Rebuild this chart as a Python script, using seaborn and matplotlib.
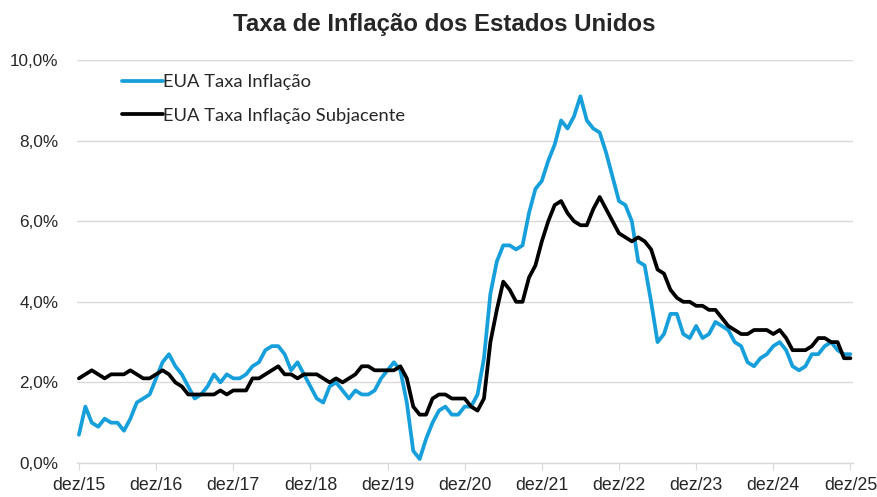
import pandas as pd
import numpy as np
import matplotlib
matplotlib.use('Agg')
import matplotlib.pyplot as plt
import seaborn as sns

# Taxa de inflação anual (%) - dez/2015 a dez/2025
inflacao = [0.7,
            1.4, 1.0, 0.9, 1.1, 1.0, 1.0, 0.8, 1.1, 1.5, 1.6, 1.7, 2.1,
            2.5, 2.7, 2.4, 2.2, 1.9, 1.6, 1.7, 1.9, 2.2, 2.0, 2.2, 2.1,
            2.1, 2.2, 2.4, 2.5, 2.8, 2.9, 2.9, 2.7, 2.3, 2.5, 2.2, 1.9,
            1.6, 1.5, 1.9, 2.0, 1.8, 1.6, 1.8, 1.7, 1.7, 1.8, 2.1, 2.3,
            2.5, 2.3, 1.5, 0.3, 0.1, 0.6, 1.0, 1.3, 1.4, 1.2, 1.2, 1.4,
            1.4, 1.7, 2.6, 4.2, 5.0, 5.4, 5.4, 5.3, 5.4, 6.2, 6.8, 7.0,
            7.5, 7.9, 8.5, 8.3, 8.6, 9.1, 8.5, 8.3, 8.2, 7.7, 7.1, 6.5,
            6.4, 6.0, 5.0, 4.9, 4.0, 3.0, 3.2, 3.7, 3.7, 3.2, 3.1, 3.4,
            3.1, 3.2, 3.5, 3.4, 3.3, 3.0, 2.9, 2.5, 2.4, 2.6, 2.7, 2.9,
            3.0, 2.8, 2.4, 2.3, 2.4, 2.7, 2.7, 2.9, 3.0, 2.8, 2.7, 2.7]

subjacente = [2.1,
              2.2, 2.3, 2.2, 2.1, 2.2, 2.2, 2.2, 2.3, 2.2, 2.1, 2.1, 2.2,
              2.3, 2.2, 2.0, 1.9, 1.7, 1.7, 1.7, 1.7, 1.7, 1.8, 1.7, 1.8,
              1.8, 1.8, 2.1, 2.1, 2.2, 2.3, 2.4, 2.2, 2.2, 2.1, 2.2, 2.2,
              2.2, 2.1, 2.0, 2.1, 2.0, 2.1, 2.2, 2.4, 2.4, 2.3, 2.3, 2.3,
              2.3, 2.4, 2.1, 1.4, 1.2, 1.2, 1.6, 1.7, 1.7, 1.6, 1.6, 1.6,
              1.4, 1.3, 1.6, 3.0, 3.8, 4.5, 4.3, 4.0, 4.0, 4.6, 4.9, 5.5,
              6.0, 6.4, 6.5, 6.2, 6.0, 5.9, 5.9, 6.3, 6.6, 6.3, 6.0, 5.7,
              5.6, 5.5, 5.6, 5.5, 5.3, 4.8, 4.7, 4.3, 4.1, 4.0, 4.0, 3.9,
              3.9, 3.8, 3.8, 3.6, 3.4, 3.3, 3.2, 3.2, 3.3, 3.3, 3.3, 3.2,
              3.3, 3.1, 2.8, 2.8, 2.8, 2.9, 3.1, 3.1, 3.0, 3.0, 2.6, 2.6]

rotulos_x = ['dez/15', 'dez/16', 'dez/17', 'dez/18', 'dez/19', 'dez/20',
             'dez/21', 'dez/22', 'dez/23', 'dez/24', 'dez/25']
rotulos_y = ['0,0%', '2,0%', '4,0%', '6,0%', '8,0%', '10,0%']

df = pd.DataFrame({'mes': range(len(inflacao)),
                   'EUA Taxa Inflação': inflacao,
                   'EUA Taxa Inflação Subjacente': subjacente})
df_long = df.melt(id_vars='mes', var_name='serie', value_name='taxa')

sns.set_style('white')
plt.rcParams['font.family'] = ['Liberation Sans', 'DejaVu Sans']

fig = plt.figure(figsize=(8.78, 4.97), dpi=100)
ax = fig.add_axes([77/878, 34/497, 776/878, 403/497])

sns.lineplot(data=df_long, x='mes', y='taxa', hue='serie',
             palette=['#169FDB', '#000000'], linewidth=2.7, ax=ax)

ax.set_ylim(0, 10)
ax.set_xlim(-0.3, 120.4)
ax.set_yticks([0, 2, 4, 6, 8, 10])
ax.set_yticklabels(rotulos_y, fontsize=12.3)
ax.set_xticks(np.arange(0, 121, 12))
ax.set_xticklabels(rotulos_x, fontsize=12.8)
ax.set_xlabel('')
ax.set_ylabel('')

ax.grid(axis='y', color='#D9D9D9', linewidth=1)
ax.set_axisbelow(True)
for lado in ['top', 'right', 'left']:
    ax.spines[lado].set_visible(False)
ax.spines['bottom'].set_color('#D9D9D9')
ax.spines['bottom'].set_linewidth(1)
ax.tick_params(axis='x', bottom=True, length=5, color='#D9D9D9', pad=5)
ax.tick_params(axis='y', left=False, pad=10)

leg = ax.legend(loc='upper left', bbox_to_anchor=(0.037, 1.005), frameon=False,
                prop={'family': 'Lato', 'size': 13.2}, handlelength=2.2,
                handletextpad=0.05, labelspacing=0.95)
for linha in leg.get_lines():
    linha.set_linewidth(2.7)

fig.text(0.506, 0.95, 'Taxa de Inflação dos Estados Unidos', ha='center',
         va='center', fontsize=17.3, fontweight='bold')

fig.savefig('out.png', dpi=100)
